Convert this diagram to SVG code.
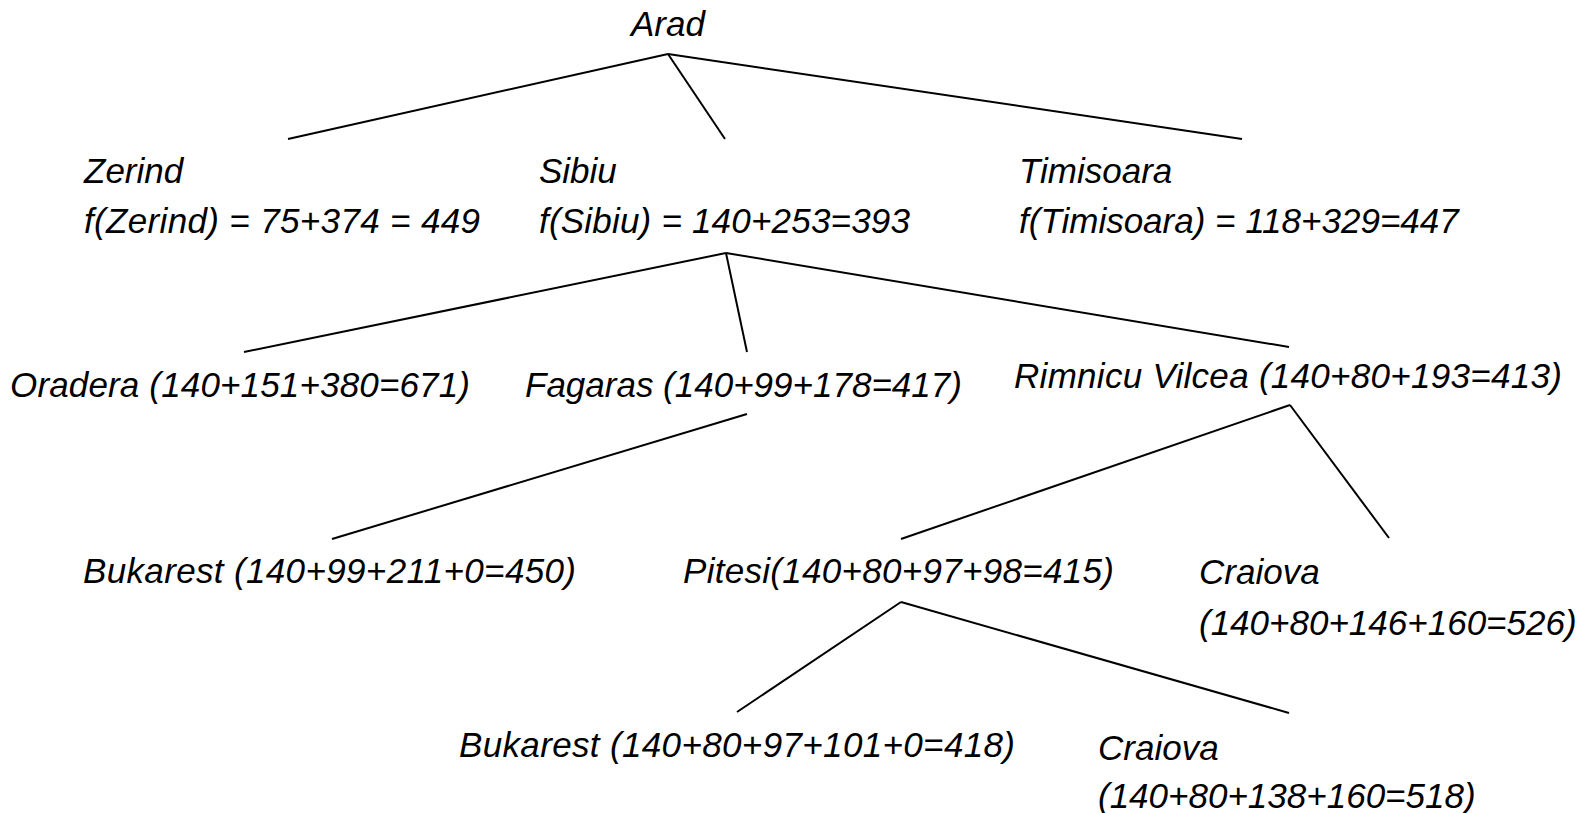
<svg xmlns="http://www.w3.org/2000/svg" width="1582" height="813" viewBox="0 0 1582 813">
  <style>
    .lbl { font-family: "Liberation Sans", Arial, sans-serif; font-style: italic; font-size: 35px; fill: #000; }
    .edge { stroke: #000; stroke-width: 2; fill: none; stroke-linecap: butt; }
  </style>
  <rect width="1582" height="813" fill="#fff"/>

  <!-- tree edges -->
  <g id="connectors">
    <line class="edge" x1="668" y1="54" x2="288" y2="139"/>
    <line class="edge" x1="668" y1="54" x2="725" y2="139"/>
    <line class="edge" x1="668" y1="54" x2="1242" y2="139"/>
    <line class="edge" x1="726" y1="253" x2="244" y2="352"/>
    <line class="edge" x1="726" y1="253" x2="747" y2="352"/>
    <line class="edge" x1="726" y1="253" x2="1289" y2="347"/>
    <line class="edge" x1="747" y1="414" x2="332" y2="539"/>
    <line class="edge" x1="1290" y1="405" x2="901" y2="539"/>
    <line class="edge" x1="1290" y1="405" x2="1389" y2="538"/>
    <line class="edge" x1="901" y1="602" x2="737" y2="712"/>
    <line class="edge" x1="901" y1="602" x2="1289" y2="713"/>
  </g>

  <!-- search nodes -->
  <g id="arad">
    <text class="lbl" x="631" y="36">Arad</text>
  </g>
  <g id="zerind">
    <text class="lbl" x="84" y="183">Zerind</text>
    <text class="lbl" x="84" y="233" textLength="396" lengthAdjust="spacing">f(Zerind) = 75+374 = 449</text>
  </g>
  <g id="sibiu">
    <text class="lbl" x="539" y="183">Sibiu</text>
    <text class="lbl" x="539" y="233" textLength="371" lengthAdjust="spacing">f(Sibiu) = 140+253=393</text>
  </g>
  <g id="timisoara">
    <text class="lbl" x="1019" y="183">Timisoara</text>
    <text class="lbl" x="1019" y="233">f(Timisoara) = 118+329=447</text>
  </g>
  <g id="oradera">
    <text class="lbl" x="10" y="397" textLength="460" lengthAdjust="spacing">Oradera (140+151+380=671)</text>
  </g>
  <g id="fagaras">
    <text class="lbl" x="525" y="397">Fagaras (140+99+178=417)</text>
  </g>
  <g id="rimnicu-vilcea">
    <text class="lbl" x="1014" y="388" textLength="548" lengthAdjust="spacing">Rimnicu Vilcea (140+80+193=413)</text>
  </g>
  <g id="bukarest-1">
    <text class="lbl" x="83" y="583" textLength="493" lengthAdjust="spacing">Bukarest (140+99+211+0=450)</text>
  </g>
  <g id="pitesi">
    <text class="lbl" x="683" y="583" textLength="431" lengthAdjust="spacing">Pitesi(140+80+97+98=415)</text>
  </g>
  <g id="craiova-1">
    <text class="lbl" x="1199" y="584">Craiova</text>
    <text class="lbl" x="1199" y="635">(140+80+146+160=526)</text>
  </g>
  <g id="bukarest-2">
    <text class="lbl" x="459" y="757" textLength="556" lengthAdjust="spacing">Bukarest (140+80+97+101+0=418)</text>
  </g>
  <g id="craiova-2">
    <text class="lbl" x="1098" y="760">Craiova</text>
    <text class="lbl" x="1098" y="808">(140+80+138+160=518)</text>
  </g>
</svg>
